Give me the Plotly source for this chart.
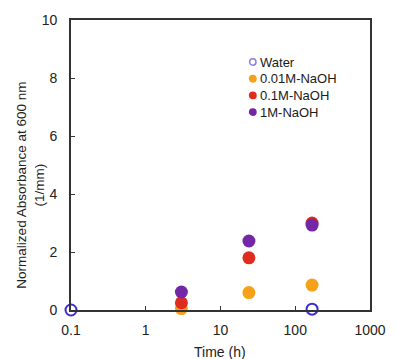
import plotly.graph_objects as go

water_t = [0.1, 168]
water_v = [0.0, 0.03]
t = [3, 24, 168]
naoh001 = [0.05, 0.6, 0.86]
naoh01 = [0.25, 1.8, 3.0]
naoh1 = [0.62, 2.38, 2.93]

x_ticks = [0.1, 1, 10, 100, 1000]
x_tick_labels = ["0.1", "1", "10", "100", "1000"]
y_ticks = [0, 2, 4, 6, 8, 10]

legend_labels = ["Water", "0.01M-NaOH", "0.1M-NaOH", "1M-NaOH"]
legend_colors = ["#3B2FD0", "#F7A11A", "#DE2D1F", "#7326A6"]
legend_open = [True, False, False, False]

FONT = "Liberation Sans, Arial, sans-serif"

fig = go.Figure()
fig.add_trace(go.Scatter(x=t, y=naoh001, mode="markers", name="0.01M-NaOH",
                         marker=dict(color=legend_colors[1], size=13), cliponaxis=False))
fig.add_trace(go.Scatter(x=t, y=naoh01, mode="markers", name="0.1M-NaOH",
                         marker=dict(color=legend_colors[2], size=13), cliponaxis=False))
fig.add_trace(go.Scatter(x=t, y=naoh1, mode="markers", name="1M-NaOH",
                         marker=dict(color=legend_colors[3], size=13), cliponaxis=False))
fig.add_trace(go.Scatter(x=water_t, y=water_v, mode="markers", name="Water",
                         marker=dict(color="rgba(0,0,0,0)", size=11,
                                     line=dict(color=legend_colors[0], width=2)),
                         cliponaxis=False))

# manual compact legend (symbol + text) in paper coords
leg_x_sym = 0.608
leg_x_txt = 0.625
leg_y0 = 0.855
leg_dy = 0.0575
for i, (lab, col, op) in enumerate(zip(legend_labels, legend_colors, legend_open)):
    yy = leg_y0 - i * leg_dy
    fig.add_shape(type="circle", xref="paper", yref="paper",
                  xsizemode="pixel", ysizemode="pixel",
                  xanchor=leg_x_sym, yanchor=yy,
                  x0=-3.2, x1=3.2, y0=-3.2, y1=3.2,
                  line=dict(color="#8A7EE6" if op else col, width=1.5),
                  fillcolor="white" if op else col)
    fig.add_annotation(x=leg_x_txt, y=yy, xref="paper", yref="paper",
                       xanchor="left", yanchor="middle", text=lab, showarrow=False,
                       font=dict(family=FONT, size=13, color="#1a1a1a"))

# axis titles
fig.add_annotation(x=-0.136, y=0.43, xref="paper", yref="paper",
                   text="Normalized Absorbance at 600 nm<br>(1/mm)", textangle=-90,
                   showarrow=False, xanchor="center", yanchor="middle",
                   font=dict(family=FONT, size=13.5, color="#222"))
fig.add_annotation(x=0.498, y=-0.145, xref="paper", yref="paper",
                   text="Time (h)", showarrow=False, xanchor="center", yanchor="middle",
                   font=dict(family=FONT, size=14, color="#222"))

fig.update_layout(
    width=398, height=359,
    margin=dict(l=71, r=18, t=20, b=49),
    paper_bgcolor="white", plot_bgcolor="white",
    font=dict(family=FONT, color="#222", size=14),
    showlegend=False,
    xaxis=dict(type="log", range=[-1, 3], tickvals=x_ticks, ticktext=x_tick_labels,
               ticks="inside", ticklen=4, tickcolor="#333", showgrid=False, zeroline=False,
               showline=True, linecolor="#333", linewidth=1.8, mirror=True,
               ticklabelstandoff=6),
    yaxis=dict(range=[0, 10], tickvals=y_ticks,
               ticks="inside", ticklen=4, tickcolor="#333", showgrid=False, zeroline=False,
               showline=True, linecolor="#333", linewidth=1.8, mirror=True,
               ticklabelstandoff=9),
)
fig.write_html("out.html")
